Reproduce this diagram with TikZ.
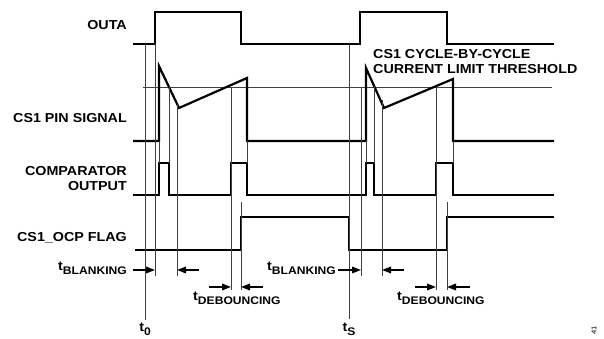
\documentclass[tikz,border=0pt]{standalone}
\usepackage{fontspec}
\setmainfont{Liberation Sans}[FakeStretch=1.1]
\usetikzlibrary{arrows.meta}
\tikzset{
  sig/.style={line width=2.2pt},
  guide/.style={line width=0.9pt,black!75},
  lbl/.style={font=\fontsize{13}{14.5}\selectfont\bfseries,inner sep=0pt},
  tarrow/.style={line width=1.7pt,-{Triangle[length=9pt,width=6.5pt]}},
}
\newcommand{\tsub}[1]{t\raisebox{-4pt}{\fontsize{11}{11}\selectfont #1}}

\begin{document}
\begin{tikzpicture}[x=1pt,y=-1pt]
  \useasboundingbox (0,0) rectangle (604,339);
  % signals
  \draw[sig] (133,44) -- (155,44) -- (155,12) -- (241,12) -- (241,44) -- (360,44) -- (360,12) -- (447,12) -- (447,44) -- (554,44);
  \draw[guide] (143,87) -- (552,87);
  \draw[sig] (133,141) -- (159,141) -- (159,66) -- (179,108) -- (247,78) -- (247,141) -- (366,141) -- (366,68) -- (384,108) -- (453,79) -- (453,141) -- (554,141);
  \draw[sig] (133,195) -- (159,195) -- (159,163) -- (169,163) -- (169,195) -- (231,195) -- (231,163) -- (247,163) -- (247,195)
    -- (366,195) -- (366,163) -- (374,163) -- (374,195) -- (436,195) -- (436,163) -- (453,163) -- (453,195) -- (554,195);
  \draw[sig] (135,250) -- (241,250) -- (241,217) -- (349,217) -- (349,250) -- (447,250) -- (447,217) -- (554,217);
  % first cycle guides
  \draw[guide] (145,44) -- (145,320);
  \draw[guide] (155,44) -- (155,276);
  \draw[guide] (159,141) -- (159,163);
  \draw[guide] (169,87) -- (169,163);
  \draw[guide] (177,104) -- (177,276);
  \draw[guide] (231,87) -- (231,290);
  \draw[guide] (241,202) -- (241,290);
  \draw[guide] (247,141) -- (247,163);
  % second cycle guides
  \draw[guide] (349,44) -- (349,319);
  \draw[guide] (361,87) -- (361,276);
  \draw[guide] (366,141) -- (366,163);
  \draw[guide] (374,86) -- (374,163);
  \draw[guide] (382,100) -- (382,276);
  \draw[guide] (436,87) -- (436,290);
  \draw[guide] (447,202) -- (447,290);
  \draw[guide] (453,141) -- (453,163);
  % timing arrows
  \draw[tarrow] (133,270) -- (155,270); \draw[tarrow] (199,270) -- (177,270);
  \draw[tarrow] (209,287) -- (231,287); \draw[tarrow] (263,287) -- (241,287);
  \draw[tarrow] (338,270) -- (361,270); \draw[tarrow] (404,270) -- (382,270);
  \draw[tarrow] (415,287) -- (436,287); \draw[tarrow] (470,287) -- (447,287);
  % labels
  \node[lbl,anchor=base east] (outa) at (127,29.5) {OUTA};
  \node[lbl,anchor=base east] (cspin) at (127,122.5) {CS1 PIN SIGNAL};
  \node[lbl,anchor=base east] (comp1) at (127,175.5) {COMPARATOR};
  \node[lbl,anchor=base east] (comp2) at (127,190.5) {OUTPUT};
  \node[lbl,anchor=base east] (flag) at (127,241) {CS1\_OCP FLAG};
  \node[lbl,anchor=base east] (blank1) at (127,270) {\tsub{BLANKING}};
  \node[lbl,anchor=base east] (blank2) at (336,270) {\tsub{BLANKING}};
  \node[lbl,anchor=base west] (deb1) at (193,300) {\tsub{DEBOUNCING}};
  \node[lbl,anchor=base west] (deb2) at (397,300) {\tsub{DEBOUNCING}};
  \node[lbl,anchor=base] (tzero) at (145,331) {\tsub{0}};
  \node[lbl,anchor=base] (tess) at (349,331) {\tsub{S}};
  \node[lbl,anchor=north west,align=left] (thr) at (373,49.5) {CS1 CYCLE-BY-CYCLE\\CURRENT LIMIT THRESHOLD};
  \node[font=\fontsize{7}{7}\selectfont,rotate=90,inner sep=0pt] (fig) at (594,330) {41};
\end{tikzpicture}
\end{document}
